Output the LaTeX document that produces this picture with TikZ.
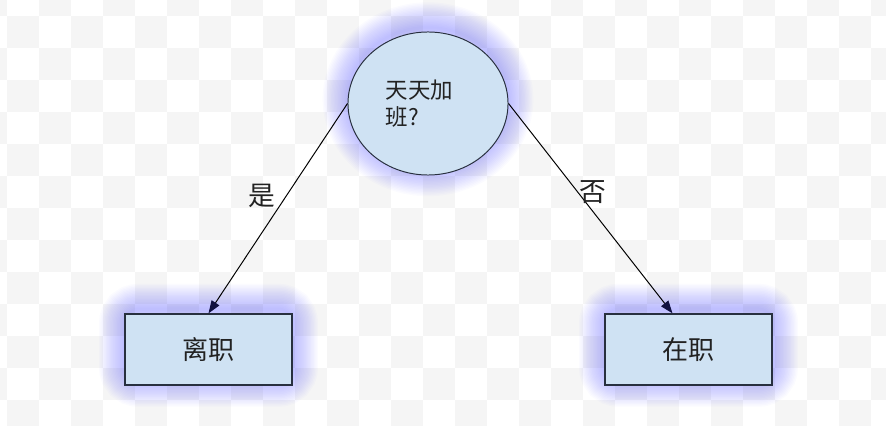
\documentclass[tikz,border=0pt]{standalone}
\usepackage{fontspec}
\setmainfont{Noto Sans CJK SC}
\usetikzlibrary{arrows.meta, positioning, shapes.geometric, backgrounds}

\definecolor{boxfill}{HTML}{CFE2F3}
\definecolor{boxline}{HTML}{28303F}
\definecolor{glowblue}{HTML}{5A5AFF}
\definecolor{tilegray}{HTML}{F5F5F5}
\definecolor{textgray}{HTML}{222222}
\definecolor{tipnavy}{HTML}{101040}

\begin{document}
\begin{tikzpicture}[
  x=0.025cm, y=-0.025cm,
  % ---- styles ----
  question/.style = {
    ellipse, draw=boxline, fill=boxfill, line width=0.7pt,
    minimum width=4cm, minimum height=3.575cm,
    text width=2.12cm, align=left, inner sep=0pt,
    text=textgray, font=\fontsize{16}{19}\selectfont
  },
  result/.style = {
    rectangle, draw=boxline, fill=boxfill, line width=0.9pt,
    minimum width=4.175cm, minimum height=1.775cm,
    text=textgray, font=\fontsize{18.5}{22}\selectfont
  },
  glow/.style = {draw=glowblue, draw opacity=0.024},
  tile/.style = {fill=tilegray},
  flow/.style = {-{Triangle[length=9pt, width=6.5pt, color=tipnavy]}, draw=black, line width=0.7pt},
  flowlabel/.style = {font=\fontsize{19}{22}\selectfont, text=textgray, inner sep=0pt}
]

\useasboundingbox (0,0) rectangle (886,426);

% ============ BACKGROUND ============
\begin{scope}[on background layer]
  \fill[white] (0,0) rectangle (886,426);
  \clip (0,0) rectangle (886,426);
  \foreach \j in {-1,...,13} {
    \foreach \k in {0,...,14} {
      \pgfmathtruncatemacro{\ii}{2*\k-1+mod(\j+1,2)}
      \fill[tile] (7+32*\ii, 16+32*\j) rectangle ++(32,32);
    }
  }
\end{scope}

% ============ NODES ============

% --- question ---
\node[question] (overtime) at (428,103.5) {天天加\\班?};

% --- outcomes ---
\node[result] (quit) at (208.5,349.5) {离职};
\node[result] (stay) at (688.5,349.5) {在职};

% --- glow ---
\begin{scope}[on background layer]
  \foreach \w in {2,4,...,36} {
    \draw[glow, line width=\w pt] ([yshift=3pt]overtime.center) ellipse [x radius=2cm, y radius=1.79cm];
    \draw[glow, line width=\w pt, rounded corners=10pt] ([yshift=3pt]quit.south west) rectangle ([yshift=3pt]quit.north east);
    \draw[glow, line width=\w pt, rounded corners=10pt] ([yshift=3pt]stay.south west) rectangle ([yshift=3pt]stay.north east);
  }
\end{scope}

% ============ CONNECTORS ============

% overtime -> quit
\draw[flow] (overtime.west) -- node[flowlabel, pos=0.44, xshift=-0.62cm] {是} (quit.north);

% overtime -> stay
\draw[flow] (overtime.east) -- node[flowlabel, pos=0.42, xshift=0.375cm] {否} ([xshift=-0.4cm]stay.north);

\end{tikzpicture}
\end{document}
